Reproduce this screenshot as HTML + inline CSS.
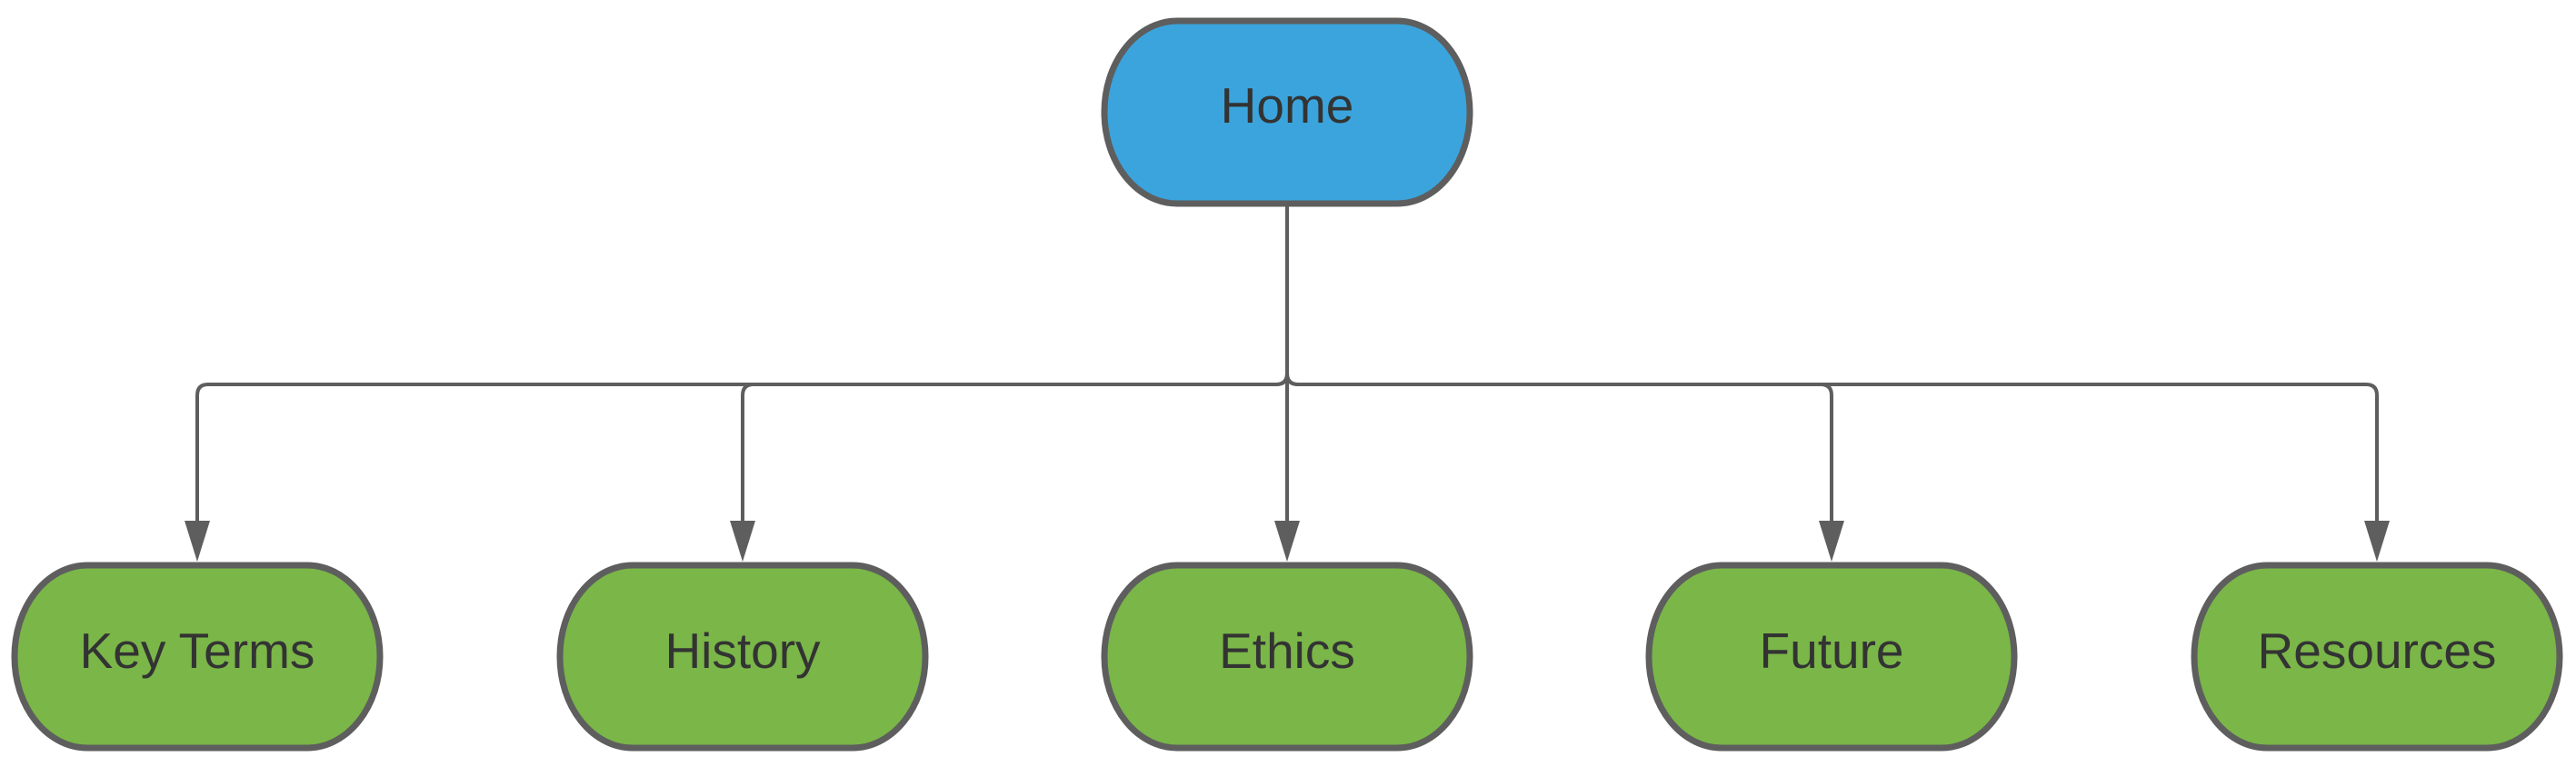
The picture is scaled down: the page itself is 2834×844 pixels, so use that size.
<!DOCTYPE html>
<html><head><style>html,body{margin:0;padding:0;background:#fff}</style></head>
<body>
<svg width="2834" height="839" viewBox="0 0 2834 839" xmlns="http://www.w3.org/2000/svg" font-family="Liberation Sans, sans-serif">
<g fill="none" stroke="#5e5e5e" stroke-width="4">
<path d="M1416 226 V411 Q1416 423 1404 423 H229 Q217 423 217 435 V575"/>
<path d="M1416 226 V411 Q1416 423 1404 423 H829 Q817 423 817 435 V575"/>
<path d="M1416 226 V575"/>
<path d="M1416 226 V411 Q1416 423 1428 423 H2003 Q2015 423 2015 435 V575"/>
<path d="M1416 226 V411 Q1416 423 1428 423 H2603 Q2615 423 2615 435 V575"/>
</g>
<g fill="#5e5e5e">
<path d="M203 573 H231 L217 618 Z"/>
<path d="M803 573 H831 L817 618 Z"/>
<path d="M1402 573 H1430 L1416 618 Z"/>
<path d="M2001 573 H2029 L2015 618 Z"/>
<path d="M2601 573 H2629 L2615 618 Z"/>
</g>
<g stroke="#5e5e5e" stroke-width="7">
<rect x="1215" y="23" width="402" height="201" rx="80" ry="100" fill="#3ba4dc"/>
<rect x="16" y="622" width="402" height="201" rx="80" ry="100" fill="#7ab648"/>
<rect x="616" y="622" width="402" height="201" rx="80" ry="100" fill="#7ab648"/>
<rect x="1215" y="622" width="402" height="201" rx="80" ry="100" fill="#7ab648"/>
<rect x="1814" y="622" width="402" height="201" rx="80" ry="100" fill="#7ab648"/>
<rect x="2414" y="622" width="402" height="201" rx="80" ry="100" fill="#7ab648"/>
</g>
<g fill="#333" font-size="55" text-anchor="middle">
<text x="1416" y="135">Home</text>
<text x="217" y="735">Key Terms</text>
<text x="817" y="735">History</text>
<text x="1416" y="735">Ethics</text>
<text x="2015" y="735">Future</text>
<text x="2615" y="735">Resources</text>
</g>
</svg>
</body></html>
